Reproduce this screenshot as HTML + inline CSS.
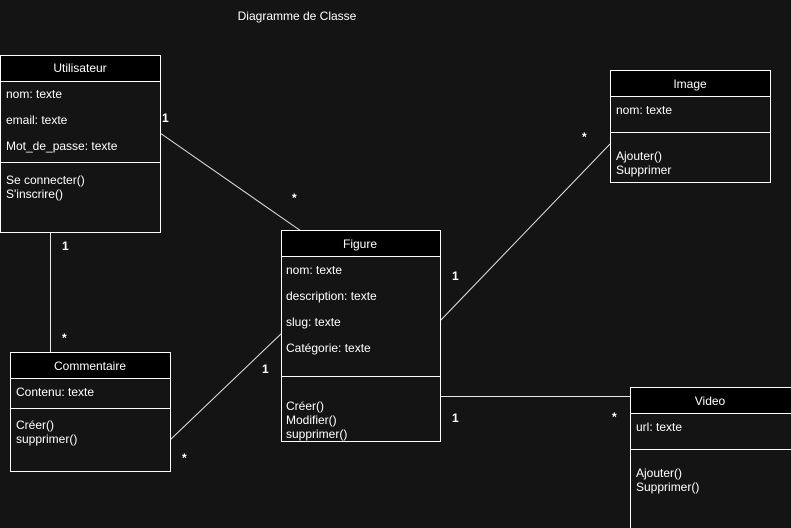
<!DOCTYPE html>
<html><head><meta charset="utf-8"><style>
html,body{margin:0;padding:0;background:#141414;}
svg{display:block;}
text{font-family:"Liberation Sans",Arial,sans-serif;font-size:12px;fill:#fff;}
.b{font-weight:bold;}
</style></head><body>
<svg width="791" height="528" viewBox="0 0 791 528" xmlns="http://www.w3.org/2000/svg">
<rect width="791" height="528" fill="#141414"/>
<text x="297" y="20" text-anchor="middle">Diagramme de Classe</text>

<g stroke="#e6e6e6" stroke-width="1" fill="none">
<line x1="160" y1="133" x2="301" y2="231"/>
<line x1="50.5" y1="232" x2="50.5" y2="352"/>
<line x1="170" y1="440" x2="283" y2="332"/>
<line x1="440" y1="321" x2="610" y2="144"/>
<line x1="440" y1="396.5" x2="630" y2="396.5"/>
</g>

<rect x="0.5" y="55.5" width="160" height="177" fill="#141414" stroke="#fff"/>
<rect x="0.5" y="55.5" width="160" height="26" fill="#000" stroke="#fff"/>
<line x1="0.5" y1="162.5" x2="160.5" y2="162.5" stroke="#fff"/>
<text x="80" y="72" text-anchor="middle">Utilisateur</text>
<text x="6" y="98">nom: texte</text>
<text x="6" y="124">email: texte</text>
<text x="6" y="150">Mot_de_passe: texte</text>
<text x="6" y="184">Se connecter()</text>
<text x="6" y="198">S'inscrire()</text>

<rect x="610.5" y="70.5" width="160" height="112" fill="#141414" stroke="#fff"/>
<rect x="610.5" y="70.5" width="160" height="26" fill="#000" stroke="#fff"/>
<line x1="610.5" y1="132.5" x2="770.5" y2="132.5" stroke="#fff"/>
<text x="690" y="88" text-anchor="middle">Image</text>
<text x="616" y="114">nom: texte</text>
<text x="616" y="160">Ajouter()</text>
<text x="616" y="174">Supprimer</text>

<rect x="281.5" y="230.5" width="159" height="211" fill="#141414" stroke="#fff"/>
<rect x="281.5" y="230.5" width="159" height="26" fill="#000" stroke="#fff"/>
<line x1="281.5" y1="376.5" x2="440.5" y2="376.5" stroke="#fff"/>
<text x="360" y="248" text-anchor="middle">Figure</text>
<text x="286" y="274">nom: texte</text>
<text x="286" y="300">description: texte</text>
<text x="286" y="326">slug: texte</text>
<text x="286" y="352">Catégorie: texte</text>
<text x="286" y="410">Créer()</text>
<text x="286" y="424">Modifier()</text>
<text x="286" y="438">supprimer()</text>

<rect x="10.5" y="352.5" width="160" height="119" fill="#141414" stroke="#fff"/>
<rect x="10.5" y="352.5" width="160" height="26" fill="#000" stroke="#fff"/>
<line x1="10.5" y1="408.5" x2="170.5" y2="408.5" stroke="#fff"/>
<text x="90" y="370" text-anchor="middle">Commentaire</text>
<text x="16" y="396">Contenu: texte</text>
<text x="16" y="429">Créer()</text>
<text x="16" y="443">supprimer()</text>

<rect x="630.5" y="387.5" width="170" height="150" fill="#141414" stroke="#fff"/>
<rect x="630.5" y="387.5" width="170" height="26" fill="#000" stroke="#fff"/>
<line x1="630.5" y1="449.5" x2="800" y2="449.5" stroke="#fff"/>
<text x="710" y="405" text-anchor="middle">Video</text>
<text x="636" y="431">url: texte</text>
<text x="636" y="477">Ajouter()</text>
<text x="636" y="491">Supprimer()</text>

<text class="b" x="162" y="122">1</text>
<text class="b" x="292" y="202">*</text>
<text class="b" x="62" y="250">1</text>
<text class="b" x="62" y="342">*</text>
<text class="b" x="262" y="373">1</text>
<text class="b" x="182" y="462">*</text>
<text class="b" x="452" y="280">1</text>
<text class="b" x="582" y="141">*</text>
<text class="b" x="452" y="422">1</text>
<text class="b" x="612" y="421">*</text>
</svg>
</body></html>
